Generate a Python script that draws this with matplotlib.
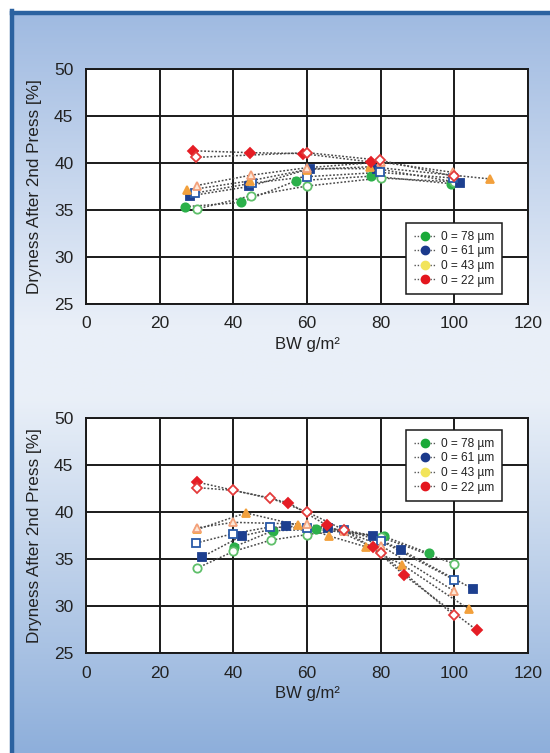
import numpy as np
import matplotlib
matplotlib.use("Agg")
import matplotlib.pyplot as plt
from matplotlib.colors import LinearSegmentedColormap
from matplotlib.lines import Line2D

plt.rcParams['font.family'] = ['Liberation Sans', 'DejaVu Sans']

# ---------------- data ----------------
x_ticks = [0, 20, 40, 60, 80, 100, 120]
y_ticks = [25, 30, 35, 40, 45, 50]
legend_labels = ["0 = 78 µm", "0 = 61 µm", "0 = 43 µm", "0 = 22 µm"]

# top chart
top_green_f_x = [27, 42, 57, 77.5, 99.2]
top_green_f_y = [35.35, 35.8, 38.1, 38.6, 37.8]
top_green_o_x = [30, 44.7, 60, 80, 100]
top_green_o_y = [35.1, 36.5, 37.55, 38.4, 38.0]
top_blue_f_x = [28.2, 44.3, 60.8, 78.9, 101.5]
top_blue_f_y = [36.5, 37.5, 39.4, 39.4, 37.9]
top_blue_o_x = [29.6, 45, 60.1, 79.8, 99.7]
top_blue_o_y = [36.8, 37.85, 38.55, 39.0, 38.4]
top_orange_f_x = [27.5, 44.5, 60, 77.1, 109.8]
top_orange_f_y = [37.1, 38.1, 39.3, 39.6, 38.3]
top_orange_o_x = [30, 44.7, 60, 80, 99.7]
top_orange_o_y = [37.6, 38.7, 39.5, 40.1, 39.0]
top_red_f_x = [29.1, 44.5, 58.8, 77.5]
top_red_f_y = [41.3, 41.1, 41.0, 40.1]
top_red_o_x = [29.8, 60, 79.8, 99.8]
top_red_o_y = [40.6, 41.1, 40.3, 38.6]

# bottom chart
bot_red_f_x = [30, 54.9, 65.3, 77.8, 86.3, 106.2]
bot_red_f_y = [43.2, 41.0, 38.6, 36.25, 33.3, 27.4]
bot_red_o_x = [30, 40, 49.9, 60.1, 70, 80.2, 99.9]
bot_red_o_y = [42.6, 42.3, 41.5, 40.0, 38.1, 35.6, 29.0]
bot_orange_f_x = [30.2, 43.4, 57.6, 66, 76, 85.9, 104]
bot_orange_f_y = [38.15, 39.9, 38.6, 37.45, 36.3, 34.4, 29.65]
bot_orange_o_x = [30, 40, 60, 70, 80.2, 99.9]
bot_orange_o_y = [38.3, 38.9, 38.7, 38.0, 36.4, 31.6]
bot_blue_f_x = [31.4, 42.3, 54.3, 65.8, 77.8, 85.4, 105.1]
bot_blue_f_y = [35.2, 37.45, 38.5, 38.25, 37.45, 36.0, 31.8]
bot_blue_o_x = [29.9, 40, 49.9, 60.1, 70, 80.2, 99.9]
bot_blue_o_y = [36.7, 37.7, 38.4, 38.3, 38.1, 36.9, 32.8]
bot_green_f_x = [40.2, 50.7, 62.4, 80.9, 93.2]
bot_green_f_y = [36.3, 38.0, 38.15, 37.4, 35.6]
bot_green_o_x = [30, 40, 50.1, 60.1, 70, 80.2, 99.9]
bot_green_o_y = [34.0, 35.8, 37.0, 37.6, 38.1, 37.3, 34.5]

# ---------------- figure ----------------
W, H = 550, 753
fig = plt.figure(figsize=(W / 100, H / 100), dpi=100)
fig.patch.set_facecolor("white")

# background panel with vertical gradient
bg = fig.add_axes([10 / W, 0, (W - 10) / W, (H - 12) / H], zorder=-5)
cmap = LinearSegmentedColormap.from_list(
    "bg", [(0.0, "#9fbae1"), (0.42, "#e9eff8"), (0.52, "#eaf0f8"), (1.0, "#8eafdb")])
grad = np.linspace(0, 1, 256).reshape(-1, 1)
bg.imshow(grad, aspect="auto", cmap=cmap, extent=[0, 1, 1, 0])
bg.set_xlim(0, 1)
bg.set_ylim(1, 0)
bg.axis("off")
# border lines (top and left)
fig.add_artist(Line2D([11.5 / W, 1], [1 - 12.5 / H, 1 - 12.5 / H], color="#2b62a0", lw=3.2,
                      transform=fig.transFigure))
fig.add_artist(Line2D([11.5 / W, 11.5 / W], [0, 1 - 11 / H], color="#2b62a0", lw=3.2,
                      transform=fig.transFigure))

text_color = "#222222"
line_kw = dict(color="#4a4a4a", lw=1.1, linestyle=(0, (1.2, 1.2)), zorder=3)


def series(ax, xs, ys, marker, face, edge, size=6):
    ax.plot(xs, ys, **line_kw)
    ax.plot(xs, ys, linestyle="none", marker=marker, markersize=size,
            markerfacecolor=face, markeredgecolor=edge, markeredgewidth=1.3, zorder=4)


def setup(ax, legend_top):
    ax.set_xlim(0, 120)
    ax.set_ylim(25, 50)
    ax.set_xticks(x_ticks)
    ax.set_yticks(y_ticks)
    ax.set_facecolor("white")
    ax.grid(True, color="#1a1a1a", lw=1.4)
    ax.set_axisbelow(True)
    for s in ax.spines.values():
        s.set_color("#1a1a1a")
        s.set_linewidth(1.4)
    ax.tick_params(length=0, labelsize=12.5, colors=text_color, pad=9)
    ax.set_xlabel("BW g/m²", fontsize=12, color=text_color, labelpad=4)
    ax.set_ylabel("Dryness After 2nd Press [%]", fontsize=12.3, color=text_color, labelpad=9)
    handles = []
    for c in ["#1aaa3a", "#1b3a8c", "#f2e45a", "#e4161e"]:
        handles.append(Line2D([0], [0], color="#555555", lw=1.0, linestyle=(0, (1, 1.3)),
                              marker="o", markersize=6, markerfacecolor=c, markeredgecolor=c))
    leg = ax.legend(handles, legend_labels, loc="upper left",
                    bbox_to_anchor=(0.724, legend_top), fontsize=8.6, frameon=True,
                    fancybox=False, edgecolor="#1a1a1a", framealpha=1,
                    handlelength=1.9, handletextpad=0.35, borderpad=0.65,
                    labelspacing=0.22, borderaxespad=0)
    leg.get_frame().set_linewidth(1.1)
    for t in leg.get_texts():
        t.set_color(text_color)


ax_w = (528 - 86) / W
ax_h = (304 - 69) / H
ax1 = fig.add_axes([86 / W, (H - 304) / H, ax_w, ax_h])
ax2 = fig.add_axes([86 / W, (H - 653) / H, ax_w, ax_h])

green, green_o = "#2bb04a", "#5fbf6a"
blue, blue_o = "#1d3f8f", "#2a5aa8"
orange, orange_o = "#f2a03c", "#f3a07a"
red, red_o = "#e51d25", "#e33a3a"

# top chart
series(ax1, top_green_f_x, top_green_f_y, "o", green, green)
series(ax1, top_green_o_x, top_green_o_y, "o", "white", green_o)
series(ax1, top_blue_f_x, top_blue_f_y, "s", blue, blue)
series(ax1, top_blue_o_x, top_blue_o_y, "s", "white", blue_o)
series(ax1, top_orange_f_x, top_orange_f_y, "^", orange, orange)
series(ax1, top_orange_o_x, top_orange_o_y, "^", "#fde8d8", orange_o)
series(ax1, top_red_f_x, top_red_f_y, "D", red, red, 5.5)
series(ax1, top_red_o_x, top_red_o_y, "D", "white", red_o, 5.5)
setup(ax1, 0.345)

# bottom chart
series(ax2, bot_green_f_x, bot_green_f_y, "o", green, green)
series(ax2, bot_green_o_x, bot_green_o_y, "o", "white", green_o)
series(ax2, bot_blue_f_x, bot_blue_f_y, "s", blue, blue)
series(ax2, bot_blue_o_x, bot_blue_o_y, "s", "white", blue_o)
series(ax2, bot_orange_f_x, bot_orange_f_y, "^", orange, orange)
series(ax2, bot_orange_o_x, bot_orange_o_y, "^", "#fde8d8", orange_o)
series(ax2, bot_red_f_x, bot_red_f_y, "D", red, red, 5.5)
series(ax2, bot_red_o_x, bot_red_o_y, "D", "white", red_o, 5.5)
setup(ax2, 0.949)

fig.savefig("out.png", dpi=100)
